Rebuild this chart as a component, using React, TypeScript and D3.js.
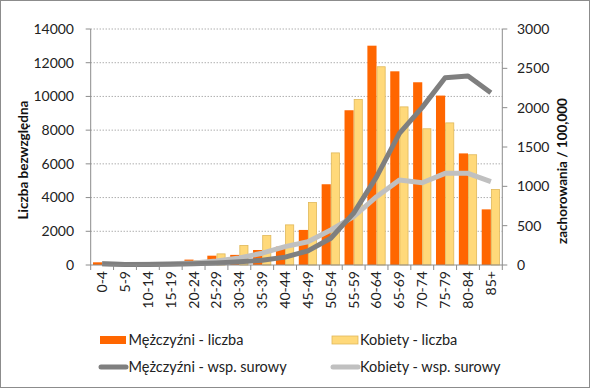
import React from "react";
import * as d3 from "d3";

const categories = ["0-4","5-9","10-14","15-19","20-24","25-29","30-34","35-39","40-44","45-49","50-54","55-59","60-64","65-69","70-74","75-79","80-84","85+"];
const menCount = [160, 40, 60, 100, 320, 553, 600, 890, 1090, 2080, 4790, 9180, 13010, 11490, 10840, 10050, 6620, 3300];
const womenCount = [120, 40, 50, 120, 280, 690, 1190, 1780, 2410, 3740, 6680, 9850, 11790, 9410, 8110, 8460, 6570, 4510];
const menRate = [15, 5, 5, 10, 15, 25, 40, 60, 100, 180, 340, 660, 1120, 1674, 2004, 2380, 2402, 2190];
const womenRate = [15, 5, 8, 15, 25, 50, 90, 150, 233, 296, 445, 614, 868, 1080, 1046, 1165, 1165, 1059];
const leftTicks = [0, 2000, 4000, 6000, 8000, 10000, 12000, 14000];
const rightTicks = [0, 500, 1000, 1500, 2000, 2500, 3000];

const W = 591, H = 389;
const L = 90.7, R = 502.3, T = 29, B = 265;
const FONT = "Lato, 'Open Sans', sans-serif";

export default function App() {
  const x = d3.scaleBand<string>().domain(categories).range([L, R]).paddingInner(0.2).paddingOuter(0.1);
  const sub = d3.scaleBand<string>().domain(["m", "w"]).range([0, x.bandwidth()]);
  const yL = d3.scaleLinear().domain([0, 14000]).range([B, T]);
  const yR = d3.scaleLinear().domain([0, 3000]).range([B, T]);
  const cx = (c: string) => (x(c) as number) + x.bandwidth() / 2;
  const line = d3.line<number>().x((_, i) => cx(categories[i])).y(d => yR(d));
  const step = x.step();

  return (
    <svg width={W} height={H} style={{ position: "absolute", left: 0, top: 0 }}>
      <rect x={0.5} y={0.5} width={W - 2} height={H - 2} fill="#fff" stroke="#8c8c8c" strokeWidth={1} />
      {leftTicks.slice(1).map(t => (
        <line key={t} x1={L} x2={R} y1={yL(t)} y2={yL(t)} stroke="#8a8a8a" strokeWidth={1} strokeDasharray="1,2" />
      ))}
      {categories.map((c, i) => (
        <g key={c}>
          <rect x={(x(c) as number) + (sub("m") as number)} y={yL(menCount[i])} width={sub.bandwidth()} height={B - yL(menCount[i])} fill="#ff6600" />
          <rect x={(x(c) as number) + (sub("w") as number) + 0.5} y={yL(womenCount[i]) + 0.5} width={sub.bandwidth() - 1} height={Math.max(0, B - yL(womenCount[i]) - 0.5)} fill="#ffd97a" stroke="#e0b85a" strokeWidth={0.8} />
        </g>
      ))}
      <path d={line(womenRate) || ""} fill="none" stroke="#c0c0c0" strokeWidth={5} strokeLinejoin="round" />
      <path d={line(menRate) || ""} fill="none" stroke="#7f7f7f" strokeWidth={5} strokeLinejoin="round" />
      <line x1={L} x2={L} y1={T} y2={B} stroke="#8c8c8c" />
      <line x1={R} x2={R} y1={T} y2={B} stroke="#8c8c8c" />
      <line x1={L} x2={R} y1={B} y2={B} stroke="#8c8c8c" />
      {leftTicks.map(t => (
        <g key={t}>
          <line x1={L - 5} x2={L} y1={yL(t)} y2={yL(t)} stroke="#8c8c8c" />
          <text x={74} y={yL(t)} dy="0.35em" textAnchor="end" fontFamily={FONT} fontSize={14} fill="#222">{t}</text>
        </g>
      ))}
      {rightTicks.map(t => (
        <g key={t}>
          <line x1={R} x2={R + 5} y1={yR(t)} y2={yR(t)} stroke="#8c8c8c" />
          <text x={517} y={yR(t)} dy="0.35em" textAnchor="start" fontFamily={FONT} fontSize={14} fill="#222">{t}</text>
        </g>
      ))}
      {d3.range(categories.length + 1).map(i => (
        <line key={i} x1={L + i * step} x2={L + i * step} y1={B} y2={B + 5} stroke="#8c8c8c" />
      ))}
      {categories.map(c => (
        <text key={c} transform={`translate(${cx(c)},${271}) rotate(-90)`} dy="0.35em" textAnchor="end" fontFamily={FONT} fontSize={14} fill="#222">{c}</text>
      ))}
      <text transform={`translate(23,160) rotate(-90)`} dy="0.35em" textAnchor="middle" fontFamily={FONT} fontSize={13.5} fontWeight="bold" fill="#111">Liczba bezwzględna</text>
      <text transform={`translate(562,171) rotate(-90)`} dy="0.35em" textAnchor="middle" fontFamily={FONT} fontSize={13.5} fontWeight="bold" fill="#111">zachorowania / 100,000</text>
      <rect x={100} y={336} width={26} height={8} fill="#ff6600" />
      <text x={128.5} y={340} dy="0.35em" fontFamily={FONT} fontSize={14.5} fill="#222">Mężczyźni - liczba</text>
      <rect x={332} y={336} width={26} height={8} fill="#ffd97a" stroke="#e0b85a" strokeWidth={0.8} />
      <text x={360} y={340} dy="0.35em" fontFamily={FONT} fontSize={14.5} fill="#222">Kobiety - liczba</text>
      <line x1={101} x2={126} y1={367} y2={367} stroke="#7f7f7f" strokeWidth={5} strokeLinecap="round" />
      <text x={128.5} y={367} dy="0.35em" fontFamily={FONT} fontSize={14.5} fill="#222">Mężczyźni - wsp. surowy</text>
      <line x1={333} x2={358} y1={367} y2={367} stroke="#c0c0c0" strokeWidth={5} strokeLinecap="round" />
      <text x={360} y={367} dy="0.35em" fontFamily={FONT} fontSize={14.5} fill="#222">Kobiety - wsp. surowy</text>
    </svg>
  );
}
